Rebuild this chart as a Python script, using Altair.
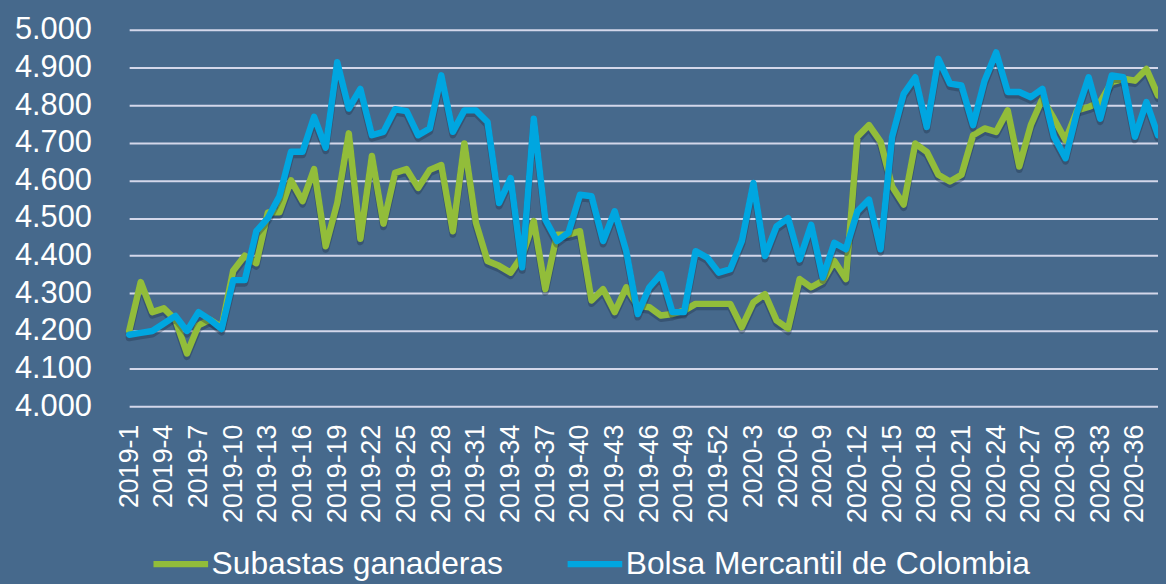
import altair as alt
import pandas as pd
import jinja2

semanas = [f"2019-{w}" for w in range(1, 53)] + [f"2020-{w}" for w in range(1, 39)]

subastas = [
    4200, 4330, 4250, 4260, 4230, 4140, 4215, 4230, 4210, 4360,
    4400, 4380, 4515, 4515, 4600, 4545, 4630, 4425, 4540, 4725,
    4445, 4665, 4485, 4620, 4630, 4580, 4628, 4641, 4465, 4698,
    4487, 4386, 4373, 4355, 4400, 4492, 4311, 4456, 4456, 4465,
    4281, 4311, 4250, 4316, 4267, 4263, 4241, 4245, 4254, 4272,
    4272, 4272, 4272, 4210, 4276, 4298, 4228, 4206, 4338, 4316,
    4333, 4386, 4338, 4716, 4747, 4703, 4584, 4536, 4698, 4676,
    4615, 4597, 4615, 4720, 4738, 4729, 4786, 4637, 4747, 4817,
    4764, 4707, 4786, 4795, 4808, 4861, 4870, 4865, 4896, 4826,
]

bolsa = [
    4190, 4195, 4200, 4220, 4240, 4200, 4250, 4230, 4205, 4335,
    4335, 4465, 4500, 4558, 4676, 4676, 4769, 4687, 4914, 4791,
    4843, 4720, 4729, 4789, 4784, 4720, 4738, 4879, 4729, 4786,
    4786, 4755, 4540, 4606, 4369, 4764, 4496, 4439, 4461, 4562,
    4558, 4439, 4518, 4412, 4245, 4316, 4351, 4250, 4250, 4412,
    4395, 4355, 4364, 4439, 4593, 4399, 4478, 4500, 4390, 4482,
    4342, 4434, 4417, 4518, 4549, 4417, 4716, 4830, 4874, 4742,
    4923, 4857, 4852, 4747, 4865, 4940, 4835, 4835, 4821, 4843,
    4716, 4659, 4782, 4874, 4764, 4879, 4874, 4716, 4808, 4720,
]

series = ["Subastas ganaderas", "Bolsa Mercantil de Colombia"]
colores = ["#92BD3A", "#00A6E0"]
etiquetas_x = semanas[::3]
ticks_y = list(range(4000, 5001, 100))

FONDO = "#46698C"
FONT = "Liberation Sans"

df = pd.concat([
    pd.DataFrame({"semana": semanas, "precio": subastas, "serie": series[0]}),
    pd.DataFrame({"semana": semanas, "precio": bolsa, "serie": series[1]}),
])

x = alt.X(
    "semana:N",
    sort=semanas,
    scale=alt.Scale(type="point", padding=0),
    axis=alt.Axis(
        title=None, values=etiquetas_x, labelAngle=-90, labelFontSize=27,
        labelColor="white", labelFont=FONT, labelPadding=18, ticks=False,
        domain=False, grid=False, labelOverlap=False, labelBound=False,
        labelFlush=False,
    ),
)
y_scale = alt.Scale(domain=[4000, 5000], nice=False, zero=False)
y_axis = alt.Axis(
    title=None, values=ticks_y, labelFontSize=31, labelColor="white",
    labelFont=FONT, labelPadding=38, ticks=False, domain=False,
    grid=True, gridColor="#D3D7EA", gridWidth=2,
    labelExpr="replace(format(datum.value, ','), ',', '.')",
)
color = alt.Color(
    "serie:N",
    scale=alt.Scale(domain=series, range=colores),
    legend=alt.Legend(
        title=None, orient="none", legendX=21, legendY=507,
        direction="horizontal", symbolType="stroke", symbolStrokeWidth=6.5,
        symbolSize=3025, labelFontSize=32, labelColor="white", labelFont=FONT,
        columnPadding=51, labelOffset=0, padding=0, labelLimit=600,
    ),
)

base = alt.Chart(df)

# soft drop shadow under each line (Excel style), drawn first
sombras = [
    base.transform_filter(alt.datum.serie == s)
    .transform_calculate(sombra="datum.precio - 8")
    .mark_line(strokeWidth=7, strokeJoin="round", strokeCap="round",
               color="#1C2E44", opacity=0.35)
    .encode(x=x, y=alt.Y("sombra:Q", scale=y_scale, axis=y_axis))
    for s in series
]
capas = [
    base.transform_filter(alt.datum.serie == s)
    .mark_line(strokeWidth=6.5, strokeJoin="round", strokeCap="round")
    .encode(x=x, y=alt.Y("precio:Q", scale=y_scale, axis=y_axis), color=color)
    for s in series
]

chart = (
    alt.layer(sombras[0], capas[0], sombras[1], capas[1])
    .properties(
        width=1036, height=379,
        autosize=alt.AutoSizeParams(type="none"),
        padding={"left": 122, "top": 20, "right": 0, "bottom": 177},
        background=FONDO,
    )
    .configure_view(stroke=None)
)

PLANTILLA = jinja2.Template("""<!DOCTYPE html>
<html>
<head>
  <style>
    html, body { background: """ + FONDO + """; }
    body { margin: 8px; overflow: hidden; }
    #{{ output_div }}.vega-embed { width: 100%; display: flex; }
  </style>
  <script type="text/javascript" src="{{ base_url }}/vega@{{ vega_version }}"></script>
  <script type="text/javascript" src="{{ base_url }}/vega-lite@{{ vegalite_version }}"></script>
  <script type="text/javascript" src="{{ base_url }}/vega-embed@{{ vegaembed_version }}"></script>
</head>
<body>
  <div id="{{ output_div }}"></div>
  <script type="text/javascript">
    (function(vegaEmbed) {
      var spec = {{ spec }};
      var embedOpt = {{ embed_options }};
      vegaEmbed("#{{ output_div }}", spec, embedOpt).catch(console.error);
    })(vegaEmbed);
  </script>
</body>
</html>
""")

chart.save("out.html", embed_options={"renderer": "svg", "actions": False}, template=PLANTILLA)
